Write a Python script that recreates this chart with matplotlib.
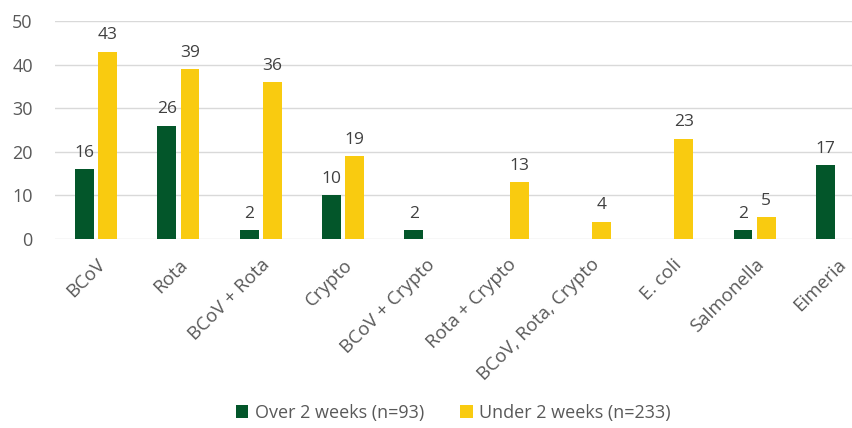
import matplotlib
matplotlib.use("Agg")
import matplotlib.pyplot as plt
import numpy as np

categories = ["BCoV", "Rota", "BCoV + Rota", "Crypto", "BCoV + Crypto", "Rota + Crypto",
              "BCoV, Rota, Crypto", "E. coli", "Salmonella", "Eimeria"]
over = [16, 26, 2, 10, 2, 0, 0, 0, 2, 17]
under = [43, 39, 36, 19, 0, 13, 4, 23, 5, 0]
series_labels = ["Over 2 weeks (n=93)", "Under 2 weeks (n=233)"]
yticks = [0, 10, 20, 30, 40, 50]

GREEN = "#03562A"
YELLOW = "#F9CB10"
GREY = "#595959"

plt.rcParams['font.family'] = ['Open Sans', 'DejaVu Sans']

fig = plt.figure(figsize=(8.53, 4.28), dpi=100)
left = 55 / 853
right = 878 / 853
bottom = 1 - 239 / 428
top = 1 - 21 / 428
ax = fig.add_axes([left, bottom, right - left, top - bottom])

x = np.arange(len(categories))
w = 0.23
off = 0.14
b1 = ax.bar(x - off, over, w, color=GREEN, label=series_labels[0], zorder=3)
b2 = ax.bar(x + off, under, w, color=YELLOW, label=series_labels[1], zorder=3)

for bars, vals in ((b1, over), (b2, under)):
    for r, v in zip(bars, vals):
        if v > 0:
            ax.annotate(str(v), (r.get_x() + r.get_width() / 2, v), xytext=(0, 6),
                        textcoords="offset points", ha="center", va="bottom",
                        fontsize=12.5, color="#404040")

ax.set_xlim(-0.5, len(categories) - 0.5)
ax.set_ylim(0, 50)
ax.set_yticks(yticks)
ax.yaxis.grid(True, color="#D9D9D9", linewidth=1, zorder=0)
ax.set_axisbelow(True)
for s in ax.spines.values():
    s.set_visible(False)
ax.tick_params(axis="y", length=0, colors=GREY, labelsize=13)
ax.tick_params(axis="y", pad=16)
ax.set_xticks(x)
ax.set_xticklabels(categories, rotation=45, ha="right", rotation_mode="anchor")
ax.tick_params(axis="x", length=0, colors=GREY, labelsize=13.5, pad=12)

fig.legend(handles=[b1, b2], labels=series_labels, loc="center", bbox_to_anchor=(453 / 853, 1 - 413 / 428),
           ncol=2, frameon=False, fontsize=13, labelcolor=GREY, handlelength=0.7, handleheight=0.7,
           handletextpad=0.35, columnspacing=2.0)

fig.savefig("out.png", dpi=100)
